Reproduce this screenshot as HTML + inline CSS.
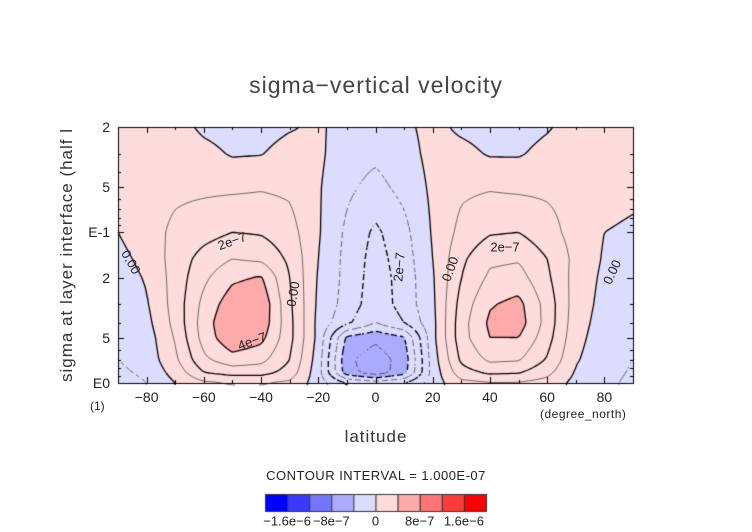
<!DOCTYPE html>
<html><head><meta charset="utf-8"><style>
body{margin:0;background:#fff;width:752px;height:532px;overflow:hidden;position:relative;font-family:"Liberation Sans",sans-serif;color:#222}
.t{position:absolute;white-space:nowrap}
</style></head><body>
<div class="t" style="left:0;width:752px;text-align:center;top:72px;font-size:23px;letter-spacing:1px;color:#444">sigma−vertical velocity</div>
<div class="t" style="left:67px;top:255px;font-size:17px;transform:translate(-50%,-50%) rotate(-90deg);letter-spacing:1px;color:#333">sigma at layer interface (half l</div>
<div class="t" style="left:90px;top:399px;font-size:12px">(1)</div>
<div class="t" style="left:540px;top:407px;font-size:12px;letter-spacing:0.5px">(degree_north)</div>
<div class="t" style="left:0;width:752px;text-align:center;top:427px;font-size:17px;letter-spacing:1px;color:#333">latitude</div>
<div class="t" style="left:0;width:752px;text-align:center;top:468px;font-size:13px;letter-spacing:0.5px">CONTOUR INTERVAL = 1.000E-07</div>
<canvas id="cv" width="752" height="532" style="position:absolute;left:0;top:0"></canvas>
<div id="labels"></div>
<script>
const lats=[-90,-80,-70,-60,-50,-40,-30,-20,-10,0,10,20,30,40,50,60,70,80,90];
const sigmas=[0.02,0.03,0.05,0.1,0.15,0.2,0.3,0.4,0.5,0.7,0.85,1.0];
const row002=[0.5,0.5,0.4,-0.2,-0.4,-0.4,-0.1,0.2,-0.5,-0.6,-0.2,0.3,-0.2,-0.4,-0.4,-0.1,0.4,0.5,0.5];
const row003=[0.6,0.6,0.6,0.3,-0.1,-0.05,0.4,0.2,-0.6,-0.8,-0.4,0.3,0.3,-0.1,-0.1,0.3,0.6,0.6,0.6];
const row005=[0.6,0.7,0.8,0.8,0.8,0.9,0.8,0.1,-0.8,-1.3,-0.7,0.2,0.8,0.9,0.8,0.8,0.7,0.5,0.3];
const row010=[0.0,0.6,1.2,1.6,2.0,1.9,1.4,0.1,-1.2,-2.2,-1.3,0.1,1.3,1.9,2.0,1.4,0.6,0.0,-0.2];
const row015=[-0.3,0.3,1.4,2.4,3.0,2.8,1.8,0.0,-1.3,-2.4,-1.5,0.0,1.8,2.8,2.9,2.0,0.7,-0.1,-0.4];
const row020=[-0.5,0.1,1.4,2.8,3.8,4.1,2.0,-0.1,-1.3,-2.5,-1.6,-0.1,2.0,3.2,3.4,2.2,0.6,-0.2,-0.5];
const row030=[-0.7,-0.1,1.4,3.3,4.6,4.8,2.2,-0.2,-1.4,-2.6,-1.6,-0.2,2.4,3.9,4.3,2.6,0.5,-0.3,-0.6];
const row040=[-0.8,-0.3,1.3,3.5,5.0,4.7,2.3,-0.3,-1.8,-3.0,-2.0,-0.3,2.6,4.2,4.5,2.6,0.4,-0.4,-0.7];
const row050=[-0.9,-0.5,1.1,3.4,4.8,4.3,2.3,-0.3,-4.2,-4.8,-4.1,-0.3,2.6,4.0,4.0,2.4,0.3,-0.5,-0.8];
const row070=[-1.0,-0.6,0.8,2.8,3.6,3.3,2.0,-0.5,-4.8,-5.5,-4.6,-0.5,2.2,3.2,3.1,1.9,0.1,-0.6,-1.0];
const row085=[-1.2,-0.8,0.4,2.0,2.4,2.4,1.6,-0.6,-4.6,-5.6,-4.4,-0.6,1.6,2.2,2.1,1.3,-0.1,-0.7,-1.1];
const row100=[-1.5,-1.0,0.0,0.8,1.0,1.0,0.8,-0.5,-2.0,-2.5,-2.0,-0.5,0.7,0.9,0.9,0.6,-0.3,-0.8,-1.2];
const grid=[row002,row003,row005,row010,row015,row020,row030,row040,row050,row070,row085,row100];
const xTicks=[-80,-60,-40,-20,0,20,40,60,80];
const yTicks=[0.02,0.05,0.1,0.2,0.5,1.0];
const yTickLabels=["2","5","E-1","2","5","E0"];
const cbLabels=[["−1.6e−6",-16],["−8e−7",-8],["0",0],["8e−7",8],["1.6e−6",16]];
const cbColors=["#0000ff","#3a3aff","#7474ff","#aaaaff","#dcdcff","#ffdcdc","#ffaaaa","#ff7474","#ff3a3a","#ff0000"];

const L=118,R=633,T=127,B=383;
const xS=v=>L+(v+90)/180*(R-L);
function yOf(s){return B-(Math.log10(s)/Math.log10(0.02))*(B-T);}
const lsg=sigmas.map(Math.log10);
function interp(lat,ls){
  let i=Math.min(lats.length-2,Math.max(0,Math.floor((lat+90)/10)));
  let fx=(lat-lats[i])/10;
  let j=0;while(j<sigmas.length-2&&ls>lsg[j+1])j++;
  let fy=(ls-lsg[j])/(lsg[j+1]-lsg[j]);fy=Math.max(0,Math.min(1,fy));fx=Math.max(0,Math.min(1,fx));
  const a=grid[j][i],b=grid[j][i+1],c=grid[j+1][i],d=grid[j+1][i+1];
  return a*(1-fx)*(1-fy)+b*fx*(1-fy)+c*(1-fx)*fy+d*fx*fy;
}
function valAt(px,py){
  const lat=(px-L)/(R-L)*180-90;
  const ls=(B-py)/(B-T)*Math.log10(0.02);
  return interp(lat,ls);
}
function color(v){let k=Math.floor(v/4)+5;k=Math.max(0,Math.min(9,k));return cbColors[k];}
const cv=document.getElementById('cv');const ctx=cv.getContext('2d');
for(let px=L;px<R;px++){for(let py=T;py<B;py++){ctx.fillStyle=color(valAt(px+0.5,py+0.5));ctx.fillRect(px,py,1,1);}}
const st=3;const nx=Math.ceil((R-L)/st),ny=Math.ceil((B-T)/st);
const V=[];for(let j=0;j<=ny;j++){V[j]=[];for(let i=0;i<=nx;i++){V[j][i]=valAt(Math.min(R,L+i*st),Math.min(B,T+j*st));}}
const levels=[-6,-5,-4,-3,-2,-1,0,1,2,3,4,5];
levels.forEach(lv=>{
  const thick=(lv%2===0);const dashed=lv<0;
  ctx.strokeStyle=thick?'#000':'#333';ctx.lineWidth=thick?1.3:0.7;
  ctx.beginPath();
  for(let j=0;j<ny;j++)for(let i=0;i<nx;i++){
    if(dashed&&((i+j)%3===0))continue;
    const x0=L+i*st,y0=T+j*st;
    const c=[V[j][i],V[j][i+1],V[j+1][i+1],V[j+1][i]];
    const p=[[x0,y0],[x0+st,y0],[x0+st,y0+st],[x0,y0+st]];
    const pts=[];
    for(let e=0;e<4;e++){const a=c[e],b=c[(e+1)%4];
      if((a<lv)!==(b<lv)){const t=(lv-a)/(b-a);pts.push([p[e][0]+t*(p[(e+1)%4][0]-p[e][0]),p[e][1]+t*(p[(e+1)%4][1]-p[e][1])]);}}
    for(let k=0;k+1<pts.length;k+=2){ctx.moveTo(pts[k][0],pts[k][1]);ctx.lineTo(pts[k+1][0],pts[k+1][1]);}
  }
  ctx.stroke();
});
ctx.strokeStyle='#000';ctx.lineWidth=1;ctx.strokeRect(L+0.5,T+0.5,R-L,B-T);
ctx.beginPath();
for(let v=-90;v<=90;v+=10){const x=Math.round(xS(v))+0.5;const len=(v%20===0)?6:3;ctx.moveTo(x,B);ctx.lineTo(x,B-len);ctx.moveTo(x,T);ctx.lineTo(x,T+len);}
[0.02,0.03,0.04,0.05,0.06,0.07,0.08,0.09,0.1,0.2,0.3,0.4,0.5,0.6,0.7,0.8,0.9,1].forEach(s=>{const y=Math.round(yOf(s))+0.5;const len=yTicks.includes(s)?6:3;ctx.moveTo(L,y);ctx.lineTo(L+len,y);ctx.moveTo(R,y);ctx.lineTo(R-len,y);});
ctx.stroke();
const cbL=265,cbW=22.1,cbT=494,cbH=17;
cbColors.forEach((c,k)=>{ctx.fillStyle=c;ctx.fillRect(cbL+k*cbW,cbT,cbW,cbH);ctx.strokeStyle='#333';ctx.strokeRect(cbL+k*cbW+0.5,cbT+0.5,cbW,cbH);});
const lab=document.getElementById('labels');
function addT(txt,x,y,size,name,anchor,extra){const d=document.createElement('div');d.className='t';d.textContent=txt;


d.style.left=x+'px';d.style.top=y+'px';d.style.fontSize=size+'px';d.style.transform=(anchor||'translate(-50%,-50%)')+(extra||'');lab.appendChild(d);}
xTicks.forEach(v=>addT(String(v).replace('-','−'),xS(v),397,14,'x-tick-label'));
yTicks.forEach((s,k)=>addT(yTickLabels[k],110,yOf(s),14,'y-tick-label','translate(-100%,-50%)'));
cbLabels.forEach(([t,v])=>addT(t,cbL+(v/4+5)*cbW,521,13,'colorbar-label'));
addT('2e−7',232,241,13,'contour-label',undefined,' rotate(-20deg)');
addT('4e−7',252,341,13,'contour-label',undefined,' rotate(-20deg)');
addT('0.00',131,262,13,'contour-label',undefined,' rotate(60deg)');
addT('0.00',293,294,13,'contour-label',undefined,' rotate(-80deg)');
addT('2e−7',399,267,13,'contour-label',undefined,' rotate(-85deg)');
addT('0.00',450,269,13,'contour-label',undefined,' rotate(-70deg)');
addT('2e−7',505,247,13,'contour-label');
addT('0.00',612,272,13,'contour-label',undefined,' rotate(-65deg)');
</script>
</body></html>
